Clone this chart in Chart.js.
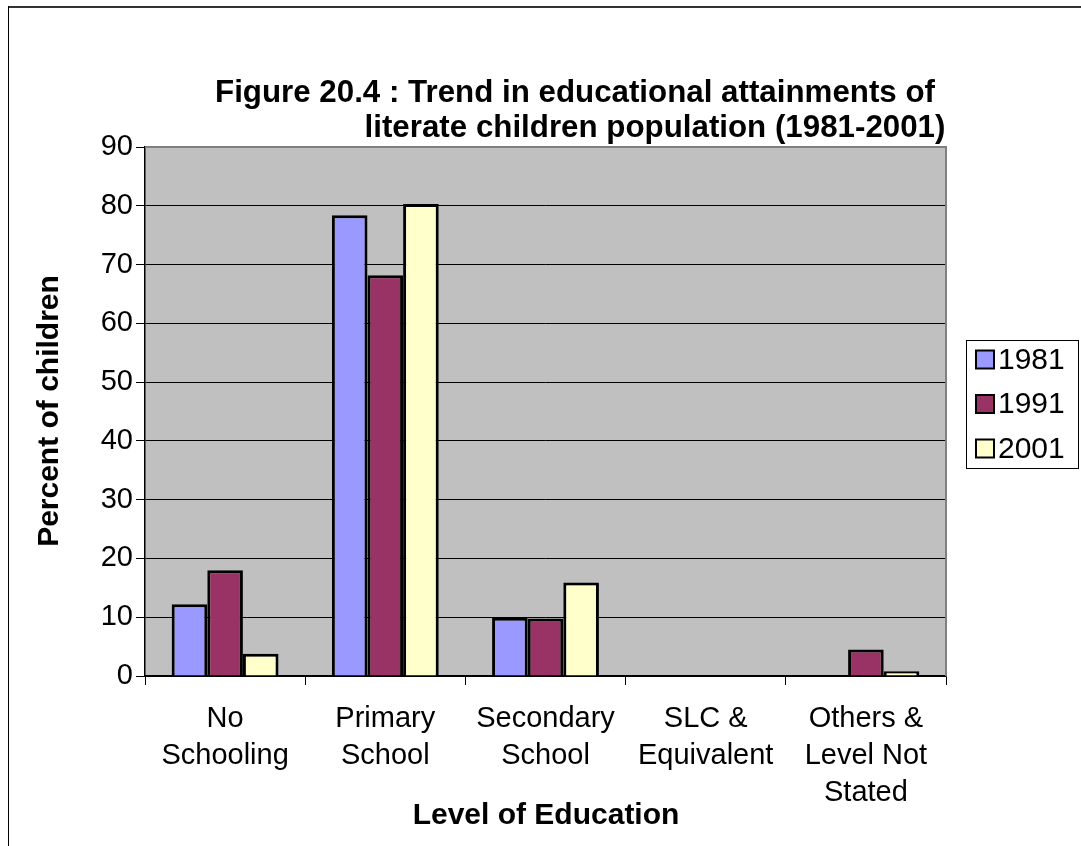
<!DOCTYPE html>
<html>
<head>
<meta charset="utf-8">
<script src="https://cdn.jsdelivr.net/npm/chart.js@4/dist/chart.umd.min.js"></script>
<style>
  html, body { margin: 0; padding: 0; background: #ffffff; }
  #wrap { width: 1081px; height: 846px; position: relative; }
</style>
</head>
<body>
<div id="wrap"><canvas id="c" width="1081" height="846"></canvas></div>
<script>
// Level of education categories (multi-line labels)
const categories = [
  ["No", "Schooling"],
  ["Primary", "School"],
  ["Secondary", "School"],
  ["SLC &", "Equivalent"],
  ["Others &", "Level Not", "Stated"]
];
// Percent of literate children by level, per census year
const years = ["1981", "1991", "2001"];
const values1981 = [12.2, 78.4, 9.9, 0, 0];
const values1991 = [18.0, 68.2, 9.8, 0, 4.5];
const values2001 = [3.8, 80.3, 15.9, 0, 0.8];
const yTicks = [0, 10, 20, 30, 40, 50, 60, 70, 80, 90];

const titleLines = [
  "Figure 20.4 : Trend in educational attainments of",
  "literate children population (1981-2001)"
];
const yTitle = "Percent of children";
const xTitle = "Level of Education";

const colors = ["#9999FF", "#993366", "#FFFFCC"];
const FONT = "'Liberation Sans', Arial, sans-serif";

// Frame, plot background, titles and legend
const decor = {
  id: 'decor',
  beforeDraw(chart) {
    const { ctx, chartArea: a } = chart;
    ctx.save();
    ctx.fillStyle = '#ffffff';
    ctx.fillRect(0, 0, chart.width, chart.height);
    ctx.fillStyle = '#C0C0C0';
    ctx.fillRect(a.left, a.top, a.right - a.left, a.bottom - a.top);
    ctx.restore();
  },
  afterDatasetsDraw(chart) {
    const { ctx, chartArea: a } = chart;
    ctx.save();
    // plot frame: top and right edges
    ctx.strokeStyle = '#808080';
    ctx.lineWidth = 2;
    ctx.beginPath();
    ctx.moveTo(a.left, a.top);
    ctx.lineTo(a.right, a.top);
    ctx.lineTo(a.right, a.bottom);
    ctx.stroke();
    ctx.restore();
  },
  afterDraw(chart) {
    const { ctx } = chart;
    ctx.save();
    // outer frame
    ctx.strokeStyle = '#333333';
    ctx.lineWidth = 2;
    ctx.beginPath();
    ctx.moveTo(8, 7);
    ctx.lineTo(1081, 7);
    ctx.stroke();
    ctx.strokeStyle = '#000000';
    ctx.lineWidth = 1;
    ctx.beginPath();
    ctx.moveTo(8.5, 6);
    ctx.lineTo(8.5, 846);
    ctx.stroke();

    // title
    ctx.fillStyle = '#000000';
    ctx.font = `bold 31.3px ${FONT}`;
    ctx.textAlign = 'center';
    ctx.textBaseline = 'middle';
    ctx.fillText(titleLines[0], 575, 93);
    ctx.fillText(titleLines[1], 655, 128);

    // axis titles
    ctx.font = `bold 30px ${FONT}`;
    ctx.fillText(xTitle, 546, 816);
    ctx.save();
    ctx.translate(50, 411);
    ctx.rotate(-Math.PI / 2);
    ctx.fillText(yTitle, 0, 0);
    ctx.restore();

    // legend
    const bx = 966.5, by = 340.5, bw = 112, bh = 128;
    ctx.fillStyle = '#ffffff';
    ctx.fillRect(bx, by, bw, bh);
    ctx.strokeStyle = '#000000';
    ctx.lineWidth = 1;
    ctx.strokeRect(bx, by, bw, bh);
    ctx.font = `30px ${FONT}`;
    ctx.textAlign = 'left';
    chart.data.datasets.forEach((ds, i) => {
      const cy = 359.5 + i * 44.5;
      ctx.fillStyle = ds.backgroundColor;
      ctx.fillRect(976, cy - 9, 18, 18);
      ctx.lineWidth = 2;
      ctx.strokeRect(976, cy - 9, 18, 18);
      ctx.fillStyle = '#000000';
      ctx.fillText(ds.label, 998, cy + 1);
    });
    ctx.restore();
  }
};

new Chart(document.getElementById('c'), {
  type: 'bar',
  data: {
    labels: categories,
    datasets: [
      { label: years[0], data: values1981, backgroundColor: colors[0] },
      { label: years[1], data: values1991, backgroundColor: colors[1] },
      { label: years[2], data: values2001, backgroundColor: colors[2] }
    ]
  },
  options: {
    responsive: false,
    animation: false,
    devicePixelRatio: 1,
    layout: { padding: { left: 0, right: 135, top: 147, bottom: 0 } },
    datasets: {
      bar: {
        borderColor: '#000000',
        borderWidth: 3,
        categoryPercentage: 0.667,
        barPercentage: 1.0
      }
    },
    plugins: {
      legend: { display: false },
      title: { display: false },
      tooltip: { enabled: false }
    },
    scales: {
      x: {
        offset: true,
        grid: {
          offset: true,
          drawOnChartArea: false,
          drawTicks: true,
          tickLength: 9,
          color: '#000000',
          lineWidth: 1
        },
        border: { display: true, color: '#000000', width: 1.5 },
        ticks: {
          color: '#000000',
          font: { family: FONT, size: 29, lineHeight: 1.27 },
          maxRotation: 0,
          minRotation: 0,
          autoSkip: false,
          padding: 16
        },
        afterFit(scale) { scale.height = 170; }
      },
      y: {
        min: 0,
        max: 90,
        afterBuildTicks(scale) { scale.ticks = yTicks.map(v => ({ value: v })); },
        grid: {
          color: '#000000',
          lineWidth: 1,
          drawTicks: true,
          tickLength: 9
        },
        border: { display: true, color: '#000000', width: 1.5 },
        ticks: {
          color: '#000000',
          font: { family: FONT, size: 29 },
          padding: 3
        },
        afterFit(scale) { scale.width = 145; }
      }
    }
  },
  plugins: [decor]
});
</script>
</body>
</html>
